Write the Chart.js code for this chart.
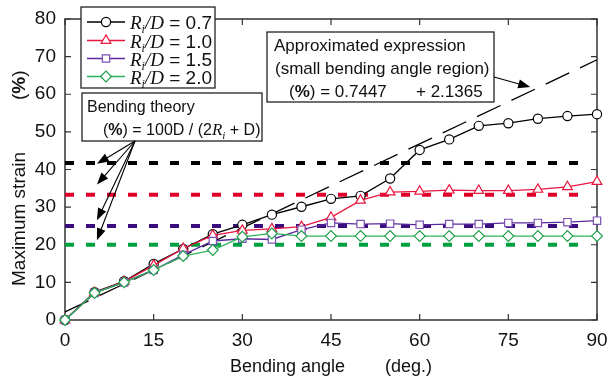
<!DOCTYPE html>
<html>
<head>
<meta charset="utf-8">
<script src="https://cdn.jsdelivr.net/npm/chart.js@4.4.1/dist/chart.umd.min.js"></script>
<style>
  html, body { margin: 0; padding: 0; background: #fff; }
</style>
</head>
<body>
<canvas id="chart" width="609" height="379"></canvas>
<script>
// Bending angle (deg.) at which strain was measured.
const angles = [0, 5, 10, 15, 20, 25, 30, 35, 40, 45, 50, 55, 60, 65, 70, 75, 80, 85, 90];

// Maximum strain (%) per Ri/D ratio.
const strain07 = [0, 7.4, 10.3, 14.9, 18.9, 22.8, 25.3, 28.0, 30.1, 32.2, 33.0, 37.6, 45.2, 48.0, 51.6, 52.3, 53.5, 54.2, 54.7];
const strain10 = [0, 7.3, 10.2, 14.5, 19.0, 22.5, 23.8, 24.2, 24.8, 27.3, 31.8, 34.0, 34.2, 34.5, 34.4, 34.4, 34.7, 35.4, 36.8];
const strain15 = [0, 7.2, 10.0, 13.3, 17.3, 21.0, 21.6, 21.4, 24.0, 25.8, 25.5, 25.6, 25.3, 25.5, 25.5, 25.8, 25.8, 26.0, 26.4];
const strain20 = [0, 7.2, 10.0, 13.3, 17.0, 18.6, 22.1, 23.0, 22.3, 22.3, 22.3, 22.3, 22.3, 22.3, 22.3, 22.3, 22.3, 22.3, 22.3];

// Bending theory levels 100D/(2Ri+D) for Ri/D = 0.7, 1.0, 1.5, 2.0
const theoryLevels = [41.7, 33.3, 25.0, 20.0];
const theoryEnd = 88;

// Approximated expression, end points at 0 and 90 deg.
const approxX = [0, 90];
const approxY = [2.14, 69.16];

const ratioLabels = ['0.7', '1.0', '1.5', '2.0'];
const xTicks = [0, 15, 30, 45, 60, 75, 90];
const yTicks = [0, 10, 20, 30, 40, 50, 60, 70, 80];

const SANS = '"Liberation Sans", Arial, sans-serif';
const SERIF = '"Liberation Serif", "Times New Roman", serif';

const lineColors = ['#000000', '#e8173f', '#5b2a9e', '#2fb35c'];
const markColors = ['#000000', '#e8173f', '#7b4fb5', '#1e9e4a'];
const theoryColors = ['#000000', '#e0002a', '#3b0c7e', '#00a040'];
const markStyles = ['circle', 'triangle', 'rect', 'rectRot'];
const markRadius = [4.6, 5.6, 5.2, 5.4];

function pts(ys) {
  return angles.map((a, i) => ({ x: a, y: ys[i] }));
}

const series = [strain07, strain10, strain15, strain20];

const datasets = [];
theoryLevels.forEach((lvl, i) => {
  datasets.push({
    data: [{ x: 0, y: lvl }, { x: theoryEnd, y: lvl }],
    borderColor: theoryColors[i],
    borderWidth: 4,
    borderDash: [9, 12],
    pointRadius: 0,
    order: 20,
  });
});
datasets.push({
  data: approxX.map((x, i) => ({ x: x, y: approxY[i] })),
  borderColor: '#000',
  borderWidth: 1.3,
  borderDash: [26, 12],
  pointRadius: 0,
  order: 15,
});
series.forEach((ys, i) => {
  datasets.push({
    data: pts(ys),
    borderColor: lineColors[i],
    borderWidth: 1.3,
    pointStyle: markStyles[i],
    pointRadius: markRadius[i],
    pointBorderColor: markColors[i],
    pointBackgroundColor: '#fff',
    pointBorderWidth: 1.2,
    order: 4 - i,
  });
});

function runs(ctx, x, y, parts) {
  let cx = x;
  parts.forEach((p) => {
    ctx.font = p.f;
    ctx.fillText(p.t, cx, y + (p.dy || 0));
    cx += ctx.measureText(p.t).width + (p.gap || 0);
  });
}

function arrow(ctx, x1, y1, x2, y2) {
  const a = Math.atan2(y2 - y1, x2 - x1);
  const L = 12, W = 4.5;
  ctx.beginPath();
  ctx.moveTo(x1, y1);
  ctx.lineTo(x2 - L * 0.8 * Math.cos(a), y2 - L * 0.8 * Math.sin(a));
  ctx.stroke();
  ctx.beginPath();
  ctx.moveTo(x2, y2);
  ctx.lineTo(x2 - L * Math.cos(a) + W * Math.sin(a), y2 - L * Math.sin(a) - W * Math.cos(a));
  ctx.lineTo(x2 - L * Math.cos(a) - W * Math.sin(a), y2 - L * Math.sin(a) + W * Math.cos(a));
  ctx.closePath();
  ctx.fill();
}

function box(ctx, x1, y1, x2, y2) {
  ctx.fillStyle = '#fff';
  ctx.fillRect(x1, y1, x2 - x1, y2 - y1);
  ctx.strokeStyle = '#222';
  ctx.lineWidth = 1.3;
  ctx.strokeRect(x1, y1, x2 - x1, y2 - y1);
  ctx.fillStyle = '#111';
}

function riParts(size) {
  return [
    { t: 'R', f: 'italic ' + size + 'px ' + SERIF },
    { t: 'i', f: 'italic ' + Math.round(size * 0.62) + 'px ' + SERIF, dy: 4 },
  ];
}

const decor = {
  id: 'decor',
  beforeDatasetsDraw(chart) {
    const ctx = chart.ctx;
    const a = chart.chartArea;
    const xs = chart.scales.x, ys = chart.scales.y;
    ctx.save();
    ctx.strokeStyle = '#333';
    ctx.lineWidth = 1.5;
    ctx.strokeRect(a.left, a.top, a.right - a.left, a.bottom - a.top);
    ctx.lineWidth = 1.2;
    ctx.beginPath();
    xTicks.forEach((v) => {
      const px = xs.getPixelForValue(v);
      ctx.moveTo(px, a.bottom); ctx.lineTo(px, a.bottom - 6);
      ctx.moveTo(px, a.top); ctx.lineTo(px, a.top + 6);
    });
    yTicks.forEach((v) => {
      const py = ys.getPixelForValue(v);
      ctx.moveTo(a.left, py); ctx.lineTo(a.left + 6, py);
      ctx.moveTo(a.right, py); ctx.lineTo(a.right - 6, py);
    });
    ctx.stroke();

    // axis titles
    ctx.fillStyle = '#111';
    ctx.textBaseline = 'alphabetic';
    ctx.textAlign = 'left';
    runs(ctx, 230, 372, [{ t: 'Bending angle', f: '18px ' + SANS }]);
    runs(ctx, 385, 372, [{ t: '(deg.)', f: '18px ' + SANS }]);
    ctx.save();
    ctx.translate(25, 286);
    ctx.rotate(-Math.PI / 2);
    runs(ctx, 0, 0, [{ t: 'Maximum strain', f: '19px ' + SANS }]);
    runs(ctx, 186, 0, [
      { t: '(', f: '19px ' + SANS },
      { t: '%', f: 'bold 19px ' + SANS },
      { t: ')', f: '19px ' + SANS },
    ]);
    ctx.restore();
    ctx.restore();
  },
  afterDatasetsDraw(chart) {
    const ctx = chart.ctx;
    const xs = chart.scales.x, ys = chart.scales.y;
    ctx.save();
    ctx.textBaseline = 'alphabetic';
    ctx.textAlign = 'left';

    // Approximated expression box + arrow
    box(ctx, 267, 32, 494, 102);
    runs(ctx, 274, 51, [{ t: 'Approximated expression', f: '17px ' + SANS }]);
    runs(ctx, 275, 74, [{ t: '(small bending angle region)', f: '17px ' + SANS }]);
    runs(ctx, 289, 97, [
      { t: '(', f: '17px ' + SANS },
      { t: '%', f: 'bold 17px ' + SANS },
      { t: ') = 0.7447', f: '17px ' + SANS },
    ]);
    runs(ctx, 416, 97, [{ t: '+ 2.1365', f: '17px ' + SANS }]);
    ctx.strokeStyle = '#000';
    ctx.fillStyle = '#000';
    ctx.lineWidth = 1.2;
    arrow(ctx, 494, 77, xs.getPixelForValue(78.7), ys.getPixelForValue(61.9));

    // Bending theory box + arrows
    box(ctx, 82, 93, 262, 141);
    runs(ctx, 87, 112, [{ t: 'Bending theory', f: '16px ' + SANS }]);
    runs(ctx, 103, 135, [
      { t: '(', f: '16px ' + SANS },
      { t: '%', f: 'bold 16px ' + SANS },
      { t: ') = 100D / (2', f: '16px ' + SANS },
    ].concat(riParts(17), [{ t: ' + D)', f: '16px ' + SANS }]));
    ctx.strokeStyle = '#000';
    ctx.fillStyle = '#000';
    ctx.lineWidth = 1.1;
    const tips = [41.5, 36.0, 26.5, 21.2];
    tips.forEach((v) => {
      arrow(ctx, 135, 141, xs.getPixelForValue(5.4), ys.getPixelForValue(v));
    });

    // Legend
    box(ctx, 81, 7, 215, 88);
    const rowY = [22, 40.5, 58.5, 76.5];
    rowY.forEach((y, i) => {
      ctx.strokeStyle = lineColors[i];
      ctx.lineWidth = 1.3;
      ctx.beginPath();
      ctx.moveTo(87, y); ctx.lineTo(125, y);
      ctx.stroke();
      ctx.fillStyle = '#fff';
      ctx.strokeStyle = markColors[i];
      ctx.lineWidth = 1.2;
      Chart.helpers.drawPoint(ctx, {
        pointStyle: markStyles[i],
        radius: markRadius[i],
        rotation: 0,
        borderWidth: 1.2,
      }, 106, y);
      ctx.fillStyle = '#111';
      runs(ctx, 130, y + 7, riParts(19).concat([
        { t: '/D', f: 'italic 19px ' + SERIF },
        { t: ' = ' + ratioLabels[i], f: '19px ' + SANS },
      ]));
    });
    ctx.restore();
  },
};

new Chart(document.getElementById('chart'), {
  type: 'line',
  data: { datasets: datasets },
  plugins: [decor],
  options: {
    responsive: false,
    animation: false,
    devicePixelRatio: 1,
    clip: false,
    layout: { padding: { top: 19, right: 12, left: 0, bottom: 0 } },
    plugins: { legend: { display: false }, tooltip: { enabled: false } },
    elements: { line: { tension: 0 } },
    scales: {
      x: {
        type: 'linear',
        min: 0,
        max: 90,
        afterBuildTicks: (s) => { s.ticks = xTicks.map((v) => ({ value: v })); },
        afterFit: (s) => { s.height = 59; s.paddingLeft = 0; s.paddingRight = 0; },
        grid: { display: false, drawTicks: false },
        border: { display: false },
        ticks: { padding: 9, color: '#111', font: { family: SANS, size: 19 } },
      },
      y: {
        type: 'linear',
        min: 0,
        max: 80,
        afterBuildTicks: (s) => { s.ticks = yTicks.map((v) => ({ value: v })); },
        afterFit: (s) => { s.width = 65; s.paddingTop = 0; s.paddingBottom = 0; },
        grid: { display: false, drawTicks: false },
        border: { display: false },
        ticks: { padding: 9, color: '#111', font: { family: SANS, size: 19 } },
      },
    },
  },
});
</script>
</body>
</html>
